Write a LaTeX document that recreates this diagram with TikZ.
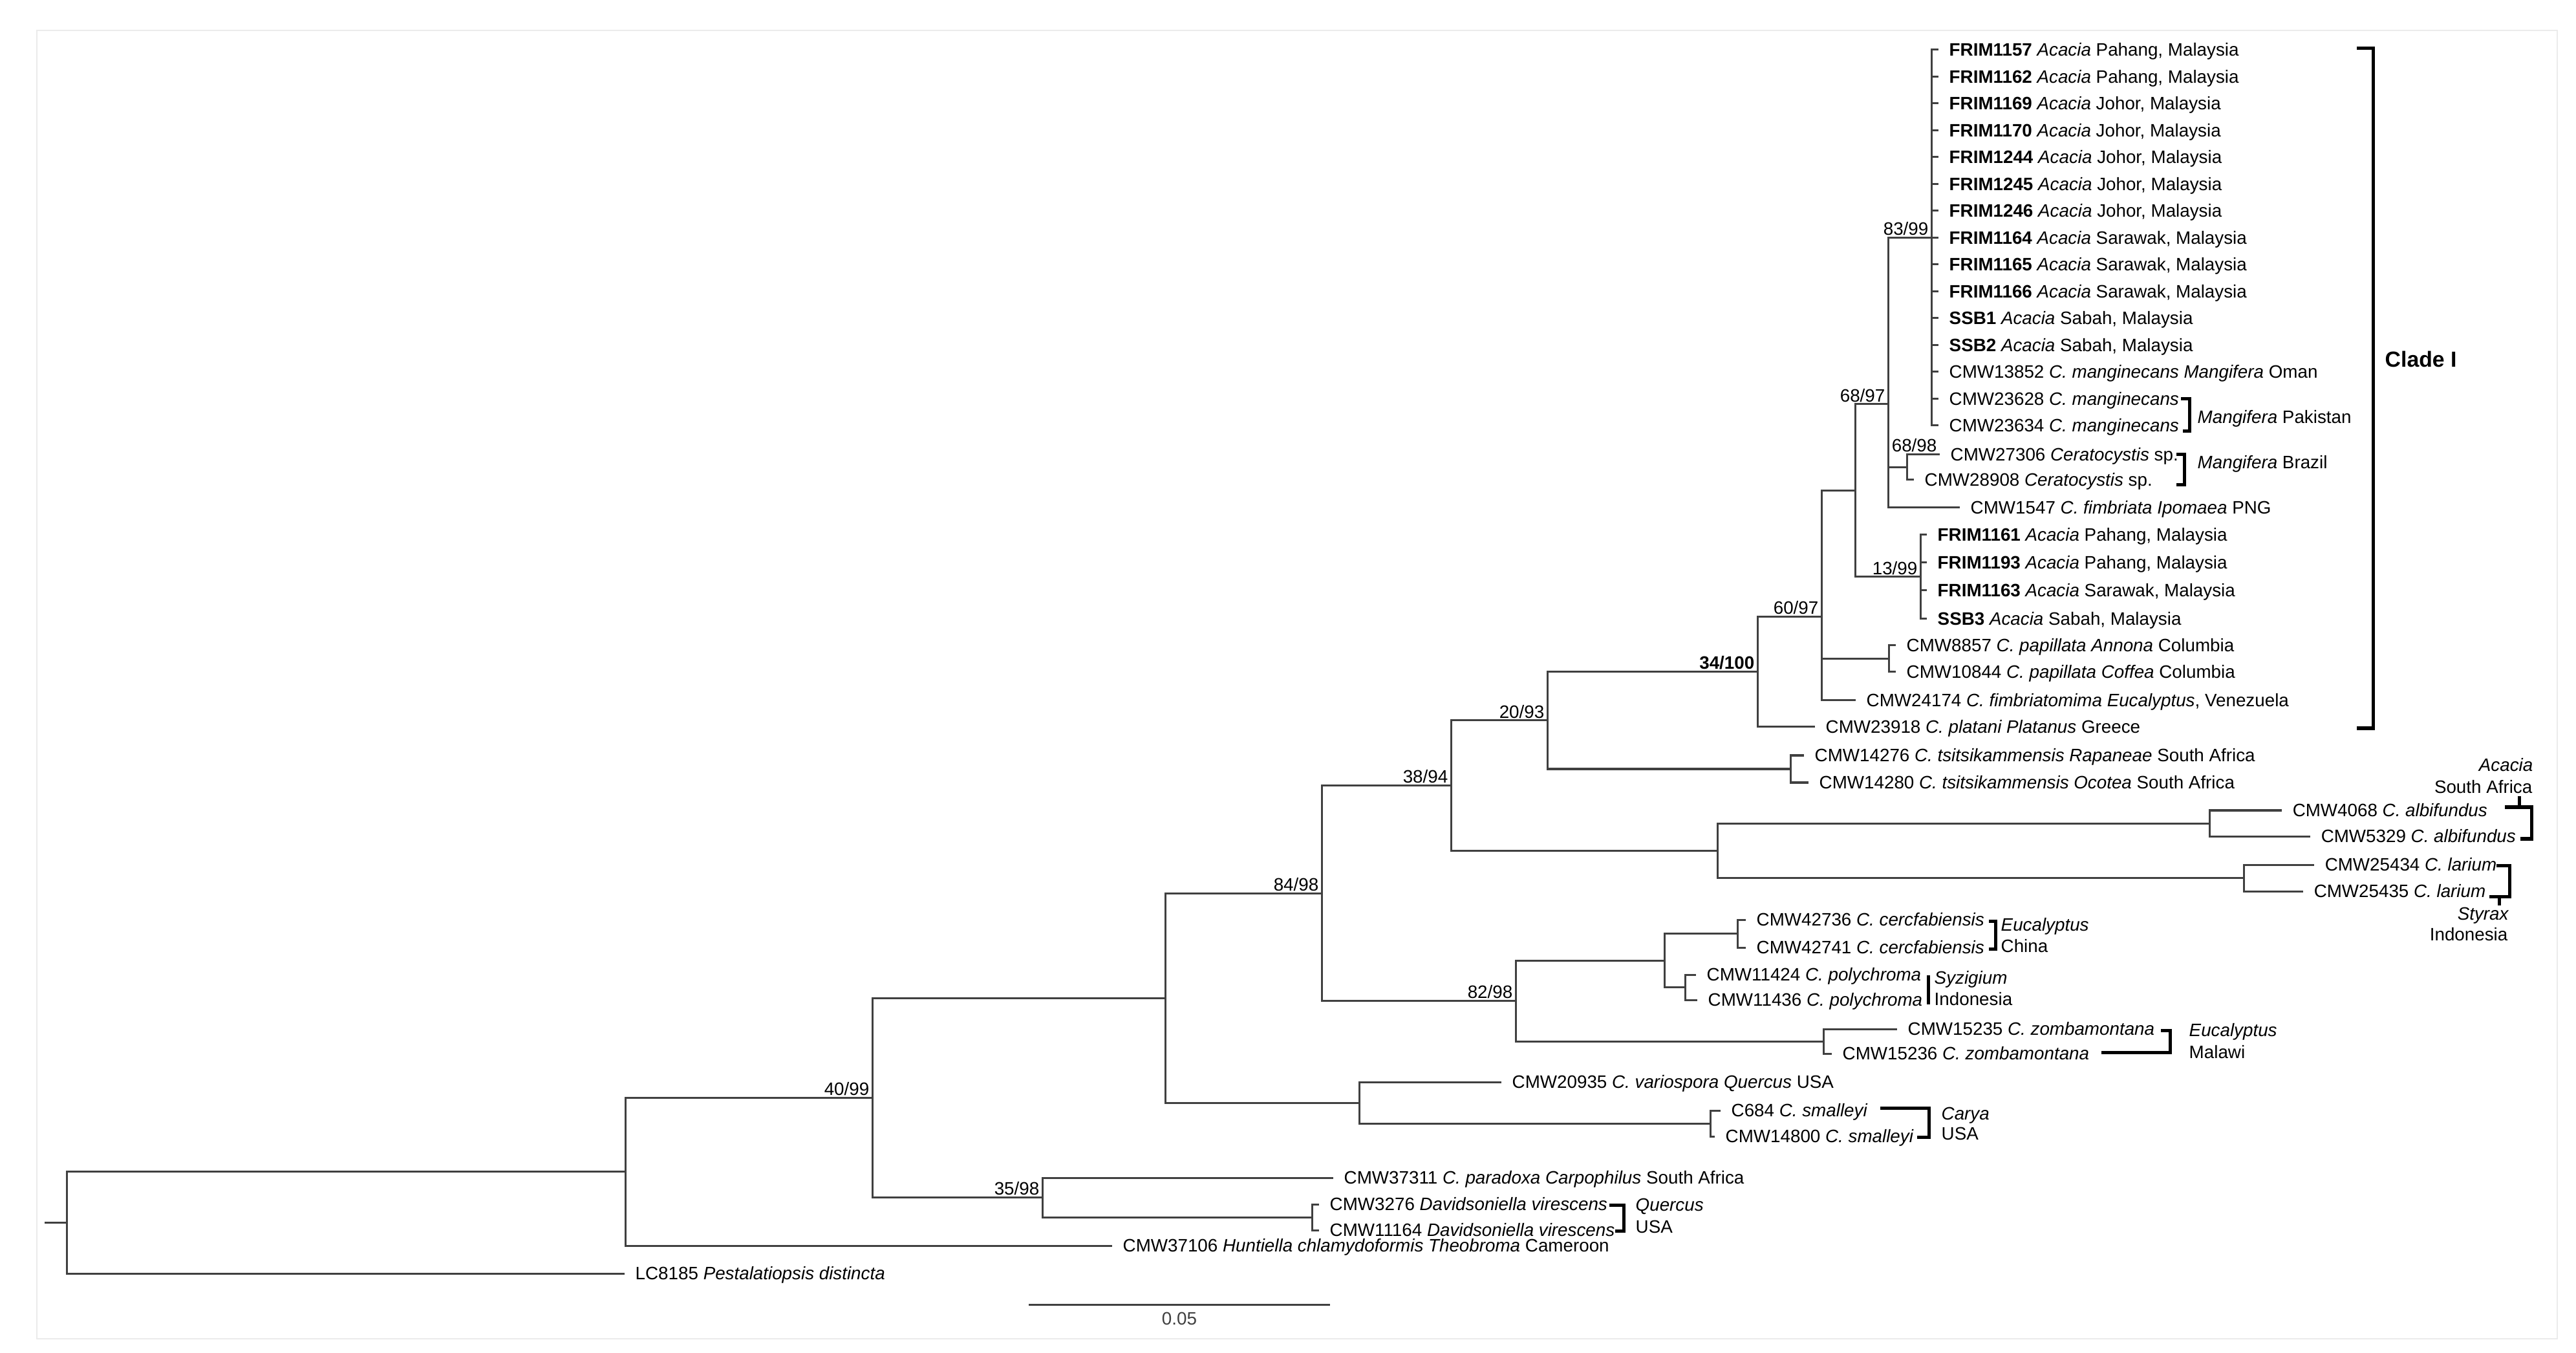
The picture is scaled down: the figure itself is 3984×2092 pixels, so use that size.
\documentclass[tikz,border=0pt]{standalone}
\usepackage{fontspec}
\setmainfont{Liberation Sans}
\newcommand{\treefont}{\fontsize{7.9pt}{9.6pt}\selectfont}
\newcommand{\cladefont}{\fontsize{9.6pt}{11pt}\selectfont\bfseries}

\begin{document}
\begin{tikzpicture}[x=0.01cm, y=-0.01cm,
    branch/.style={line width=0.03cm, black!75},
    bracket/.style={line width=0.05cm, black, line cap=rect, line join=miter},
    leaf/.style={anchor=west, inner xsep=0.16cm, inner ysep=0pt, text height=5.66pt, text depth=0pt, font=\treefont},
    host/.style={anchor=west, inner sep=0pt, text height=5.66pt, text depth=0pt, font=\treefont},
    boot/.style={anchor=south east, inner xsep=0.04cm, inner ysep=0.03cm, text depth=0pt, font=\treefont}]

    % Page and faint frame
    \useasboundingbox (0,0) rectangle (3984,2092);
    \fill[white] (0,0) rectangle (3984,2092);
    \draw[black!8, line width=0.02cm] (57,47) rectangle (3955,2070);

    % Internal nodes
    \coordinate (rootin) at (69,1890.3);
    \coordinate (root) at (103,1890.3);
    \coordinate (nOut) at (967,1811.6);
    \coordinate (n4099) at (1349,1697.3);
    \coordinate (n3598) at (1612,1851.5);
    \coordinate (ndav) at (2029,1882);
    \coordinate (nMid) at (1802,1543);
    \coordinate (nvar) at (2102,1705);
    \coordinate (nsma) at (2645,1737);
    \coordinate (n8498) at (2044,1381);
    \coordinate (n8298) at (2344,1547.5);
    \coordinate (nCP) at (2574,1485);
    \coordinate (ncer) at (2687,1443.5);
    \coordinate (npol) at (2606,1526.5);
    \coordinate (nzom) at (2820,1610);
    \coordinate (n3894) at (2244,1214.5);
    \coordinate (nAL) at (2656,1315.3);
    \coordinate (nalb) at (3417,1273);
    \coordinate (nlar) at (3470,1357.5);
    \coordinate (n2093) at (2393,1113.8);
    \coordinate (ntsi) at (2769,1189);
    \coordinate (n34100) at (2718,1038.6);
    \coordinate (n6097) at (2817,953.3);
    \coordinate (npap) at (2921,1018.5);
    \coordinate (nFR) at (2869,758.4);
    \coordinate (n1399) at (2970,891.8);
    \coordinate (n6897) at (2920,625);
    \coordinate (n6898) at (2949,722.5);
    \coordinate (n8399) at (2987,367.5);

    % Clade I leaves
    \node[leaf] (f1157) at (2998,77) {\textbf{FRIM1157} \textit{Acacia} Pahang, Malaysia};
    \node[leaf] (f1162) at (2998,118.5) {\textbf{FRIM1162} \textit{Acacia} Pahang, Malaysia};
    \node[leaf] (f1169) at (2998,160) {\textbf{FRIM1169} \textit{Acacia} Johor, Malaysia};
    \node[leaf] (f1170) at (2998,201.5) {\textbf{FRIM1170} \textit{Acacia} Johor, Malaysia};
    \node[leaf] (f1244) at (2998,243) {\textbf{FRIM1244} \textit{Acacia} Johor, Malaysia};
    \node[leaf] (f1245) at (2998,284.5) {\textbf{FRIM1245} \textit{Acacia} Johor, Malaysia};
    \node[leaf] (f1246) at (2998,326) {\textbf{FRIM1246} \textit{Acacia} Johor, Malaysia};
    \node[leaf] (f1164) at (2998,367.5) {\textbf{FRIM1164} \textit{Acacia} Sarawak, Malaysia};
    \node[leaf] (f1165) at (2998,409) {\textbf{FRIM1165} \textit{Acacia} Sarawak, Malaysia};
    \node[leaf] (f1166) at (2998,450.5) {\textbf{FRIM1166} \textit{Acacia} Sarawak, Malaysia};
    \node[leaf] (ssb1) at (2998,492) {\textbf{SSB1} \textit{Acacia} Sabah, Malaysia};
    \node[leaf] (ssb2) at (2998,533.5) {\textbf{SSB2} \textit{Acacia} Sabah, Malaysia};
    \node[leaf] (c13852) at (2998,575) {CMW13852 \textit{C. manginecans Mangifera} Oman};
    \node[leaf] (c23628) at (2998,616.5) {CMW23628 \textit{C. manginecans}};
    \node[leaf] (c23634) at (2998,658) {CMW23634 \textit{C. manginecans}};
    \node[leaf] (c27306) at (3000,703) {CMW27306 \textit{Ceratocystis} sp.};
    \node[leaf] (c28908) at (2960,742) {CMW28908 \textit{Ceratocystis} sp.};
    \node[leaf] (c1547) at (3031,785) {CMW1547 \textit{C. fimbriata Ipomaea} PNG};
    \node[leaf] (f1161) at (2980,827) {\textbf{FRIM1161} \textit{Acacia} Pahang, Malaysia};
    \node[leaf] (f1193) at (2980,870) {\textbf{FRIM1193} \textit{Acacia} Pahang, Malaysia};
    \node[leaf] (f1163) at (2980,913) {\textbf{FRIM1163} \textit{Acacia} Sarawak, Malaysia};
    \node[leaf] (ssb3) at (2980,957) {\textbf{SSB3} \textit{Acacia} Sabah, Malaysia};
    \node[leaf] (c8857) at (2932,998) {CMW8857 \textit{C. papillata Annona} Columbia};
    \node[leaf] (c10844) at (2932,1039) {CMW10844 \textit{C. papillata Coffea} Columbia};
    \node[leaf] (c24174) at (2870,1083) {CMW24174 \textit{C. fimbriatomima Eucalyptus}, Venezuela};
    \node[leaf] (c23918) at (2807,1124) {CMW23918 \textit{C. platani Platanus} Greece};

    % Other leaves
    \node[leaf] (c14276) at (2790,1168) {CMW14276 \textit{C. tsitsikammensis Rapaneae} South Africa};
    \node[leaf] (c14280) at (2797,1210) {CMW14280 \textit{C. tsitsikammensis Ocotea} South Africa};
    \node[leaf] (c4068) at (3529,1253) {CMW4068 \textit{C. albifundus}};
    \node[leaf] (c5329) at (3573,1293) {CMW5329 \textit{C. albifundus}};
    \node[leaf] (c25434) at (3579,1337) {CMW25434 \textit{C. larium}};
    \node[leaf] (c25435) at (3562,1378) {CMW25435 \textit{C. larium}};
    \node[leaf] (c42736) at (2700,1422) {CMW42736 \textit{C. cercfabiensis}};
    \node[leaf] (c42741) at (2700,1465) {CMW42741 \textit{C. cercfabiensis}};
    \node[leaf] (c11424) at (2623,1507) {CMW11424 \textit{C. polychroma}};
    \node[leaf] (c11436) at (2625,1546) {CMW11436 \textit{C. polychroma}};
    \node[leaf] (c15235) at (2934,1591) {CMW15235 \textit{C. zombamontana}};
    \node[leaf] (c15236) at (2833,1629) {CMW15236 \textit{C. zombamontana}};
    \node[leaf] (c20935) at (2322,1673) {CMW20935 \textit{C. variospora Quercus} USA};
    \node[leaf] (c684) at (2661,1717) {C684 \textit{C. smalleyi}};
    \node[leaf] (c14800) at (2652,1757) {CMW14800 \textit{C. smalleyi}};
    \node[leaf] (c37311) at (2062,1821) {CMW37311 \textit{C. paradoxa Carpophilus} South Africa};
    \node[leaf] (c3276) at (2040,1862) {CMW3276 \textit{Davidsoniella virescens}};
    \node[leaf] (c11164) at (2040,1902) {CMW11164 \textit{Davidsoniella virescens}};
    \node[leaf] (c37106) at (1720,1926) {CMW37106 \textit{Huntiella chlamydoformis Theobroma} Cameroon};
    \node[leaf] (lc8185) at (966,1969) {LC8185 \textit{Pestalatiopsis distincta}};

    % Draw the branches
    \draw[branch] (rootin) -- (root);
    \draw[branch] (root) |- (nOut) (root) |- (lc8185.west);
    \draw[branch] (nOut) |- (n4099) (nOut) |- (c37106.west);
    \draw[branch] (n4099) |- (nMid) (n4099) |- (n3598);
    \draw[branch] (n3598) |- (c37311.west) (n3598) |- (ndav);
    \draw[branch] (ndav) |- (c3276.west) (ndav) |- (c11164.west);
    \draw[branch] (nMid) |- (n8498) (nMid) |- (nvar);
    \draw[branch] (nvar) |- (c20935.west) (nvar) |- (nsma);
    \draw[branch] (nsma) |- (c684.west) (nsma) |- (c14800.west);
    \draw[branch] (n8498) |- (n3894) (n8498) |- (n8298);
    \draw[branch] (n8298) |- (nCP) (n8298) |- (nzom);
    \draw[branch] (nCP) |- (ncer) (nCP) |- (npol);
    \draw[branch] (ncer) |- (c42736.west) (ncer) |- (c42741.west);
    \draw[branch] (npol) |- (c11424.west) (npol) |- (c11436.west);
    \draw[branch] (nzom) |- (c15235.west) (nzom) |- (c15236.west);
    \draw[branch] (n3894) |- (n2093) (n3894) |- (nAL);
    \draw[branch] (nAL) |- (nalb) (nAL) |- (nlar);
    \draw[branch] (nalb) |- (c4068.west) (nalb) |- (c5329.west);
    \draw[branch] (nlar) |- (c25434.west) (nlar) |- (c25435.west);
    \draw[branch] (n2093) |- (n34100) (n2093) |- (ntsi);
    \draw[branch] (ntsi) |- (c14276.west) (ntsi) |- (c14280.west);
    \draw[branch] (n34100) |- (n6097) (n34100) |- (c23918.west);
    \draw[branch] (n6097) |- (nFR) (n6097) |- (npap) (n6097) |- (c24174.west);
    \draw[branch] (npap) |- (c8857.west) (npap) |- (c10844.west);
    \draw[branch] (nFR) |- (n6897) (nFR) |- (n1399);
    \draw[branch] (n1399) |- (f1161.west) (n1399) |- (f1193.west) (n1399) |- (f1163.west) (n1399) |- (ssb3.west);
    \draw[branch] (n6897) |- (n8399) (n6897) |- (n6898) (n6897) |- (c1547.west);
    \draw[branch] (n6898) |- (c27306.west) (n6898) |- (c28908.west);
    \draw[branch] (n8399) |- (f1157.west) (n8399) |- (f1162.west) (n8399) |- (f1169.west)
        (n8399) |- (f1170.west) (n8399) |- (f1244.west) (n8399) |- (f1245.west)
        (n8399) |- (f1246.west) (n8399) |- (f1164.west) (n8399) |- (f1165.west)
        (n8399) |- (f1166.west) (n8399) |- (ssb1.west) (n8399) |- (ssb2.west)
        (n8399) |- (c13852.west) (n8399) |- (c23628.west) (n8399) |- (c23634.west);

    % Support values
    \node[boot] at (n8399) {83/99};
    \node[boot] at (n6897) {68/97};
    \node[boot, xshift=0.51cm, yshift=0.2cm] at (n6898) {68/98};
    \node[boot] at (n1399) {13/99};
    \node[boot] at (n6097) {60/97};
    \node[boot] at (n34100) {\textbf{34/100}};
    \node[boot] at (n2093) {20/93};
    \node[boot] at (n3894) {38/94};
    \node[boot] at (n8498) {84/98};
    \node[boot] at (n8298) {82/98};
    \node[boot] at (n4099) {40/99};
    \node[boot] at (n3598) {35/98};

    % Brackets
    \draw[bracket] (3647,75) -- (3670,75) -- (3670,1126) -- (3647,1126);
    \draw[bracket] (3375,617) -- (3386,617) -- (3386,667) -- (3378,667);
    \draw[bracket] (3368,703) -- (3378,703) -- (3378,750) -- (3368,750);
    \draw[bracket] (3876,1248) -- (3915,1248) -- (3915,1297) -- (3900,1297);
    \draw[bracket] (3896,1248) -- (3896,1234);
    \draw[bracket] (3863,1338) -- (3881,1338) -- (3881,1386) -- (3852,1386);
    \draw[bracket] (3865,1386) -- (3865,1397);
    \draw[bracket] (3078,1424) -- (3086,1424) -- (3086,1467) -- (3078,1467);
    \draw[bracket] (2982,1510) -- (2982,1550);
    \draw[bracket] (3344,1593) -- (3356,1593) -- (3356,1627) -- (3252,1627);
    \draw[bracket] (2910,1713) -- (2983,1713) -- (2983,1758) -- (2967,1758);
    \draw[bracket] (2491,1863) -- (2511,1863) -- (2511,1903) -- (2500,1903);

    % Bracket labels
    \node[host, font=\cladefont, text height=6.9pt] (clade) at (3688,555) {Clade I};
    \node[host] (hPak) at (3398,645) {\textit{Mangifera} Pakistan};
    \node[host] (hBra) at (3398,715) {\textit{Mangifera} Brazil};
    \node[host, anchor=east] (hAca1) at (3918,1183) {\textit{Acacia}};
    \node[host, anchor=east] (hAca2) at (3917,1217) {South Africa};
    \node[host, anchor=east] (hSty1) at (3881,1413) {\textit{Styrax}};
    \node[host, anchor=east] (hSty2) at (3879,1445) {Indonesia};
    \node[host] (hEuc1) at (3094,1430) {\textit{Eucalyptus}};
    \node[host] (hEuc2) at (3094,1463) {China};
    \node[host] (hSyz1) at (2991,1512) {\textit{Syzigium}};
    \node[host] (hSyz2) at (2991,1545) {Indonesia};
    \node[host] (hMal1) at (3385,1593) {\textit{Eucalyptus}};
    \node[host] (hMal2) at (3385,1627) {Malawi};
    \node[host] (hCar1) at (3002,1722) {\textit{Carya}};
    \node[host] (hCar2) at (3002,1753) {USA};
    \node[host] (hQue1) at (2529,1863) {\textit{Quercus}};
    \node[host] (hQue2) at (2529,1897) {USA};

    % Scale bar
    \coordinate (sbl) at (1591,2017);
    \coordinate (sbr) at (2057,2017);
    \draw[branch] (sbl) -- node[midway, below, inner ysep=0.1cm, text height=5.66pt, text depth=0pt, font=\treefont] {0.05} (sbr);

\end{tikzpicture}
\end{document}
